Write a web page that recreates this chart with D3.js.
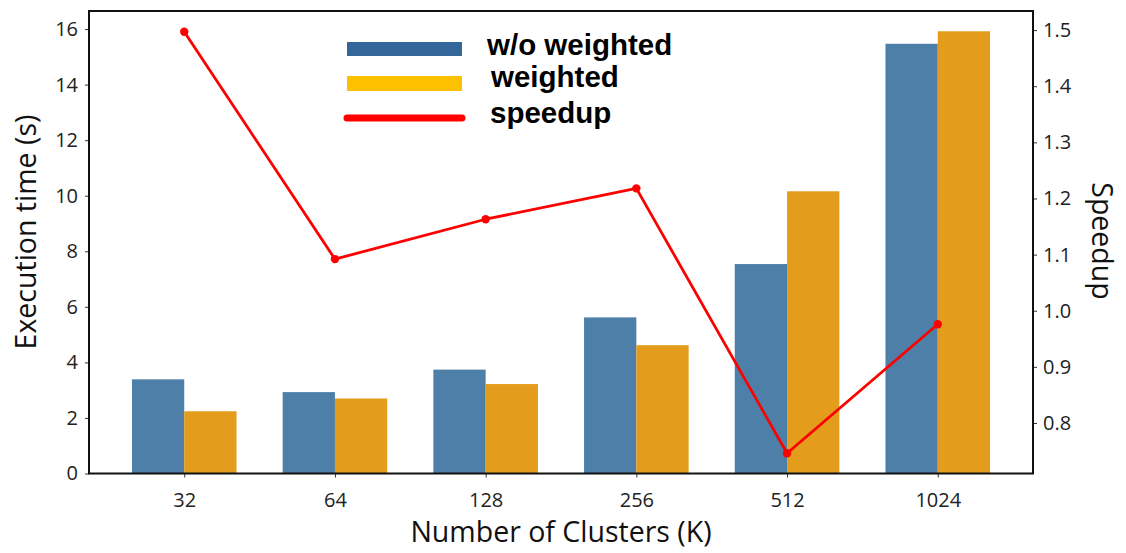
<!DOCTYPE html>
<html><head><meta charset="utf-8">
<script src="https://cdn.jsdelivr.net/npm/d3@7"></script>
<style>body{margin:0;background:#fff}svg{display:block}</style>
</head><body>
<svg id="c" width="1126" height="553"></svg>
<script>
const categories = ["32","64","128","256","512","1024"];
const withoutWeighted = [3.39, 2.93, 3.74, 5.62, 7.54, 15.47];
const weighted = [2.24, 2.70, 3.22, 4.62, 10.16, 15.92];
const speedup = [1.497, 1.092, 1.163, 1.218, 0.746, 0.976];
const leftTicks = [0,2,4,6,8,10,12,14,16];
const rightTicks = [0.8,0.9,1.0,1.1,1.2,1.3,1.4,1.5];
const seriesNames = ["w/o weighted","weighted","speedup"];

const L=89, R=1033, T=11, B=473.5;
const svg = d3.select("#c");
const x = d3.scaleLinear().domain([-0.632, categories.length-1+0.632]).range([L,R]);
const y = d3.scaleLinear().domain([0,16.65]).range([B,T]);
const y2 = d3.scaleLinear().domain([0.710,1.534]).range([B,T]);
const bw = x(0.347)-x(0);

const g = svg.append("g");
g.selectAll("rect.a").data(withoutWeighted).enter().append("rect")
  .attr("x",(d,i)=>x(i)-bw).attr("width",bw)
  .attr("y",d=>y(d)).attr("height",d=>B-y(d))
  .attr("fill","#4e7fa8");
g.selectAll("rect.b").data(weighted).enter().append("rect")
  .attr("x",(d,i)=>x(i)).attr("width",bw)
  .attr("y",d=>y(d)).attr("height",d=>B-y(d))
  .attr("fill","#e39c1c");

const line = d3.line().x((d,i)=>x(i)).y(d=>y2(d));
g.append("path").datum(speedup).attr("d",line).attr("fill","none")
  .attr("stroke","#ff0000").attr("stroke-width",2.8).attr("stroke-linejoin","round");
g.selectAll("circle").data(speedup).enter().append("circle")
  .attr("cx",(d,i)=>x(i)).attr("cy",d=>y2(d)).attr("r",4.2).attr("fill","#ff0000");

const tickFont = "'Open Sans', sans-serif";
const ax = svg.append("g").attr("transform",`translate(0,${B})`)
  .call(d3.axisBottom(x).tickValues(d3.range(categories.length)).tickFormat(i=>categories[i]).tickSize(4).tickSizeOuter(0));
const ay = svg.append("g").attr("transform",`translate(${L},0)`)
  .call(d3.axisLeft(y).tickValues(leftTicks).tickSize(4).tickSizeOuter(0));
const ay2 = svg.append("g").attr("transform",`translate(${R},0)`)
  .call(d3.axisRight(y2).tickValues(rightTicks).tickFormat(d3.format(".1f")).tickSize(4).tickSizeOuter(0));
[ax,ay,ay2].forEach(a=>{
  a.select(".domain").remove();
  a.selectAll(".tick line").attr("stroke","#333").attr("stroke-width",1);
  a.selectAll(".tick text").attr("font-family",tickFont).attr("font-size",20).attr("fill","#222");
});
ax.selectAll(".tick text").attr("y",33).attr("dy","0");
ay.selectAll(".tick text").attr("x",-11);
ay2.selectAll(".tick text").attr("x",10);

svg.append("rect").attr("x",L).attr("y",T).attr("width",R-L).attr("height",B-T)
  .attr("fill","none").attr("stroke","#111").attr("stroke-width",2);

svg.append("text").attr("transform",`translate(36,232) rotate(-90)`).attr("text-anchor","middle")
  .attr("font-family",tickFont).attr("font-size",28.5).attr("fill","#111").text("Execution time (s)");
svg.append("text").attr("x",561).attr("y",542).attr("text-anchor","middle")
  .attr("font-family",tickFont).attr("font-size",28.5).attr("fill","#111").text("Number of Clusters (K)");
svg.append("text").attr("transform",`translate(1092,241) rotate(90)`).attr("text-anchor","middle")
  .attr("font-family",tickFont).attr("font-size",28.5).attr("fill","#111").text("Speedup");

// legend
const lg = svg.append("g");
lg.append("rect").attr("x",347).attr("y",42).attr("width",115).attr("height",14).attr("fill","#336699");
lg.append("rect").attr("x",347).attr("y",76).attr("width",115).attr("height",15).attr("fill","#ffc000");
lg.append("line").attr("x1",347).attr("x2",462).attr("y1",118).attr("y2",118)
  .attr("stroke","#ff0000").attr("stroke-width",7).attr("stroke-linecap","round");
const lf = "'Liberation Sans', Arial, sans-serif";
lg.append("text").attr("x",487).attr("y",55).text(seriesNames[0]);
lg.append("text").attr("x",491).attr("y",87).text(seriesNames[1]);
lg.append("text").attr("x",490).attr("y",123).text(seriesNames[2]);
lg.selectAll("text").attr("font-family",lf).attr("font-weight","bold").attr("font-size",29.5).attr("fill","#000");
</script>
</body></html>
